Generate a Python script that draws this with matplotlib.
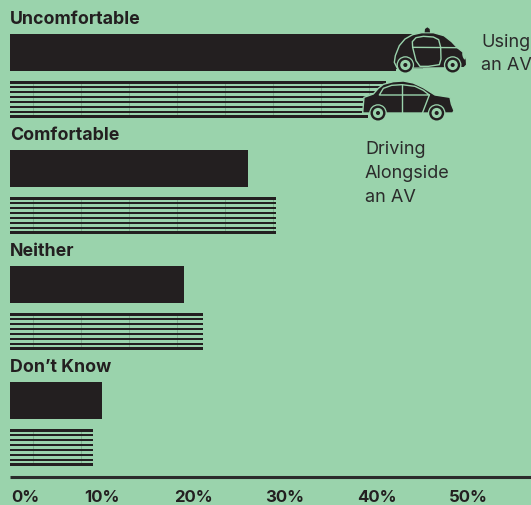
# -*- coding: utf-8 -*-
import matplotlib
matplotlib.use("Agg")
import matplotlib.pyplot as plt
from matplotlib.patches import Circle, Ellipse, Polygon, Rectangle

#data
categories = ["Uncomfortable", "Comfortable", "Neither", "Don\u2019t Know"]
using_av = [45, 26, 19, 10]
driving_alongside = [41, 29, 21, 9]
tick_values = [0, 10, 20, 30, 40, 50]
tick_labels = ["0%", "10%", "20%", "30%", "40%", "50%"]

BG = "#9AD3AC"
INK = "#231F20"
W, H = 531, 506
PX_PER_PCT = 9.17

plt.rcParams["font.family"] = ["Inter", "DejaVu Sans"]

fig = plt.figure(figsize=(W / 100, H / 100), dpi=100, facecolor=BG)

#axes for the bars: x in percent, y in pixels from the top
ax = fig.add_axes([0, 0, 1, 1], facecolor=BG)
ax.set_xlim(-10 / PX_PER_PCT, (W - 10) / PX_PER_PCT)
ax.set_ylim(H, 0)
ax.axis("off")

for i, name in enumerate(categories):
    top = 34 + 116 * i
    ax.text(0, top - 15, name, fontsize=12.8, fontweight="bold", color=INK, va="center", ha="left")
    #solid bar
    ax.barh(top + 18.5 + 0.5, using_av[i], height=37, color=INK, linewidth=0)
    #striped bar, 8 thin lines
    s_top = top + 48
    for k in range(8):
        ax.barh(s_top + 1.5 + k * 4.86, driving_alongside[i], height=2.1, color=INK, linewidth=0)
    #thin verticals through the stripes
    for px in range(33, 400, 48):
        v = (px - 10) / PX_PER_PCT
        if v < driving_alongside[i]:
            ax.vlines(v, s_top, s_top + 36, color=INK, linewidth=0.4, alpha=0.35)

#baseline and ticks
ax.plot([0, (W - 10) / PX_PER_PCT], [477.5, 477.5], color="#2b2b2b", linewidth=2.2, solid_capstyle="butt")
for v, lab in zip(tick_values, tick_labels):
    ax.text(v if v > 0 else 0.1, 497.5, lab, fontsize=12, fontweight="bold", color=INK, va="center",
            ha="center" if v > 0 else "left")

#overlay in pixels for the car icons
ov = fig.add_axes([0, 0, 1, 1], facecolor="none")
ov.set_xlim(0, W)
ov.set_ylim(H, 0)
ov.axis("off")


def wheel(cx, cy, r):
    ov.add_patch(Circle((cx, cy), r + 1.3, fc=BG, ec="none", zorder=5))
    ov.add_patch(Circle((cx, cy), r, fc=INK, ec="none", zorder=6))
    ov.add_patch(Circle((cx, cy), r * 0.68, fc=BG, ec="none", zorder=7))
    ov.add_patch(Circle((cx, cy), r * 0.27, fc=INK, ec="none", zorder=8))


def zoomed(points):
    return [(340 + x / 3, y / 3) for x, y in points]


#bars stop at the cars, cover what would show below them
ov.add_patch(Rectangle((396, 69.5), 40, 3, fc=BG, ec="none", zorder=2))
ov.add_patch(Rectangle((368, 113.5), 24, 6, fc=BG, ec="none", zorder=2))

#self driving car
av_body = [(172, 208), (163, 190), (166, 170), (178, 140), (195, 120), (218, 107), (245, 101), (280, 101),
           (312, 110), (335, 128), (352, 146), (370, 160), (379, 178), (380, 198), (372, 206)]
ov.add_patch(Polygon(zoomed(av_body), closed=True, fc=INK, ec=BG, lw=1.0, joinstyle="round", zorder=3))
ov.add_patch(Polygon(zoomed([(254, 100), (255, 90), (262, 85), (269, 90), (270, 100)]), closed=True, fc=INK, ec="none", zorder=3))
av_window = [(218, 145), (217, 128), (228, 116), (250, 112), (280, 114), (296, 122), (302, 145), (303, 180),
             (298, 197), (265, 202), (240, 202), (228, 185)]
ov.add_patch(Polygon(zoomed(av_window), closed=True, fc="none", ec=BG, lw=1.0, joinstyle="round", zorder=4))
ov.plot(*zip(*zoomed([(218, 145), (352, 146)])), color=BG, lw=1.0, zorder=4)
ov.add_patch(Ellipse((340 + 372 / 3, 170 / 3), 3, 8, angle=-15, fc=BG, ec="none", zorder=4))
wheel(340 + 196 / 3, 198 / 3, 7.5)
wheel(340 + 338 / 3, 198 / 3, 7.5)

#normal car
sedan_body = [(68, 342), (72, 295), (100, 285), (115, 268), (130, 256), (160, 248), (190, 246), (220, 252),
              (250, 266), (285, 288), (330, 295), (334, 315), (342, 335), (338, 342)]
ov.add_patch(Polygon(zoomed(sedan_body), closed=True, fc=INK, ec=BG, lw=1.0, joinstyle="round", zorder=3))
sedan_window = [(118, 288), (130, 268), (155, 259), (186, 257), (225, 262), (250, 274), (268, 288)]
ov.add_patch(Polygon(zoomed(sedan_window), closed=True, fc="none", ec=BG, lw=1.0, joinstyle="round", zorder=4))
ov.plot(*zip(*zoomed([(186, 257), (186, 342)])), color=BG, lw=1.0, zorder=4)
ov.plot(*zip(*zoomed([(268, 288), (248, 340)])), color=BG, lw=1.0, zorder=4)
wheel(340 + 114 / 3, 342 / 3, 7.5)
wheel(340 + 290 / 3, 342 / 3, 7.5)

#series labels
for y, t in [(42, "Using"), (65, "an AV")]:
    ov.text(481, y, t, fontsize=13, color="#2b2b2b", va="center", ha="left")
for y, t in [(149, "Driving"), (173, "Alongside"), (197, "an AV")]:
    ov.text(365, y, t, fontsize=13, color="#2b2b2b", va="center", ha="left")

fig.savefig("out.png", dpi=100, facecolor=BG)
